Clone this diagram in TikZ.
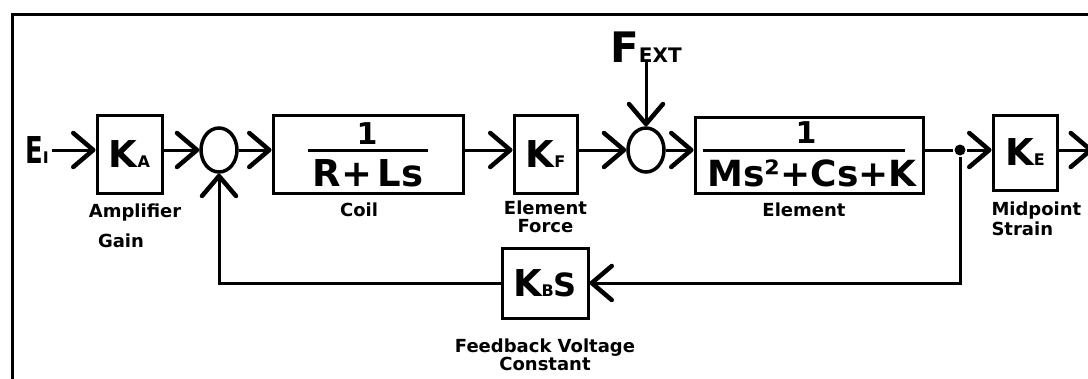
\documentclass[tikz,border=0pt]{standalone}
\usepackage{fontspec}
\usepackage{graphicx}
\setmainfont{DejaVu Sans}
\usetikzlibrary{arrows.meta,shapes.geometric}
\newcommand{\sbs}[1]{{\fontsize{16}{16}\selectfont #1}}
\begin{document}
\begin{tikzpicture}[x=1pt,y=-1pt, line width=3pt,
  >={Straight Barb[length=20pt,width=34pt,line width=4.5pt,round]},
  blk/.style={draw, line width=3pt, inner sep=0pt},
  sumj/.style={draw, ellipse, line width=3.5pt, minimum width=36pt, minimum height=44pt, inner sep=0pt},
  sym/.style={font=\bfseries\fontsize{37}{40}\selectfont, inner sep=0pt},
  num/.style={font=\bfseries\fontsize{30}{32}\selectfont, inner sep=0pt},
  lbl/.style={font=\bfseries\fontsize{18}{20}\selectfont, inner sep=0pt, align=center}
]
\useasboundingbox (0,0) rectangle (1088,378);
\fill[white] (0,0) rectangle (1088,378);
% frame
\draw[line width=3pt] (12,380) -- (12,14) -- (1095,14);

% blocks
\node[sym] (EI) at (37,150) {\scalebox{0.7}[1]{E}\sbs{I}};
\node[blk, minimum width=65pt, minimum height=78pt] (KA) at (129.5,154) {};
\node[sym] at (KA.center) {K\sbs{A}};
\node[sumj] (S1) at (219,150) {};
\node[blk, minimum width=190pt, minimum height=78pt] (coil) at (368,154) {};
\node[num] (coilnum) at (367,134) {1};
\node[sym] (coilden) at (368,173) {R+\hspace{5pt}Ls};
\draw (308,150) -- (428,150);
\node[blk, minimum width=63pt, minimum height=78pt] (KF) at (545.5,154) {};
\node[sym] at (KF.center) {K\sbs{F}};
\node[sumj] (S2) at (646,150) {};
\node[sym, font=\bfseries\fontsize{42}{44}\selectfont] (fext) at (646,47) {F{\fontsize{20}{20}\selectfont EXT}};
\node[blk, minimum width=228pt, minimum height=76pt] (elem) at (809,155) {};
\node[num] (elemnum) at (806,133) {1};
\node[sym, font=\bfseries\fontsize{36}{38}\selectfont] (elemden) at (812,173) {Ms²+Cs+K};
\draw (703,150) -- (905,150);
\node[circle, fill, inner sep=0pt, minimum size=11pt] (jn) at (960,150) {};
\node[blk, minimum width=64pt, minimum height=75pt] (KE) at (1025,152.5) {};
\node[sym] at (KE.center) {K\sbs{E}};
\coordinate (out) at (1093,150);
\node[blk, minimum width=86pt, minimum height=70pt] (KBS) at (545,283) {};
\node[sym] at (KBS.center) {K\sbs{B}{\fontsize{32}{32}\selectfont S}};

% connectors
\draw[->] ([xshift=2pt]EI.east) -- (KA.west |- EI);
\draw[->] (KA.east |- S1) -- (S1.west);
\draw[->] (S1.east) -- (coil.west |- S1);
\draw[->] (coil.east |- S2) -- (KF.west |- S2);
\draw[->] (KF.east |- S2) -- (S2.west);
\draw[->] (S2.east) -- (elem.west |- S2);
\draw[->] ([yshift=4pt]fext.south) -- (S2.north);
\draw (elem.east |- jn) -- (jn);
\draw[->] (jn) -- (KE.west |- jn);
\draw[->] (KE.east |- jn) -- (out);
\draw[->] (jn) |- (KBS.east);
\draw[->] (KBS.west) -| (S1.south);

% labels
\node[lbl] (lamp) at (135,213) {Amplifier};
\node[lbl] (lgain) at (121,241) {Gain};
\node[lbl] (lcoil) at (359,210) {Coil};
\node[lbl] (lef) at (545.5,217) {Element\\[-2pt]Force};
\node[lbl] (lel) at (804,210) {Element};
\node[lbl, align=left, anchor=north west] (lmid) at (990,200) {Midpoint\\[0pt]Strain};
\node[lbl] (lfb) at (545,355) {Feedback Voltage\\[-2pt]Constant};
\end{tikzpicture}
\end{document}
